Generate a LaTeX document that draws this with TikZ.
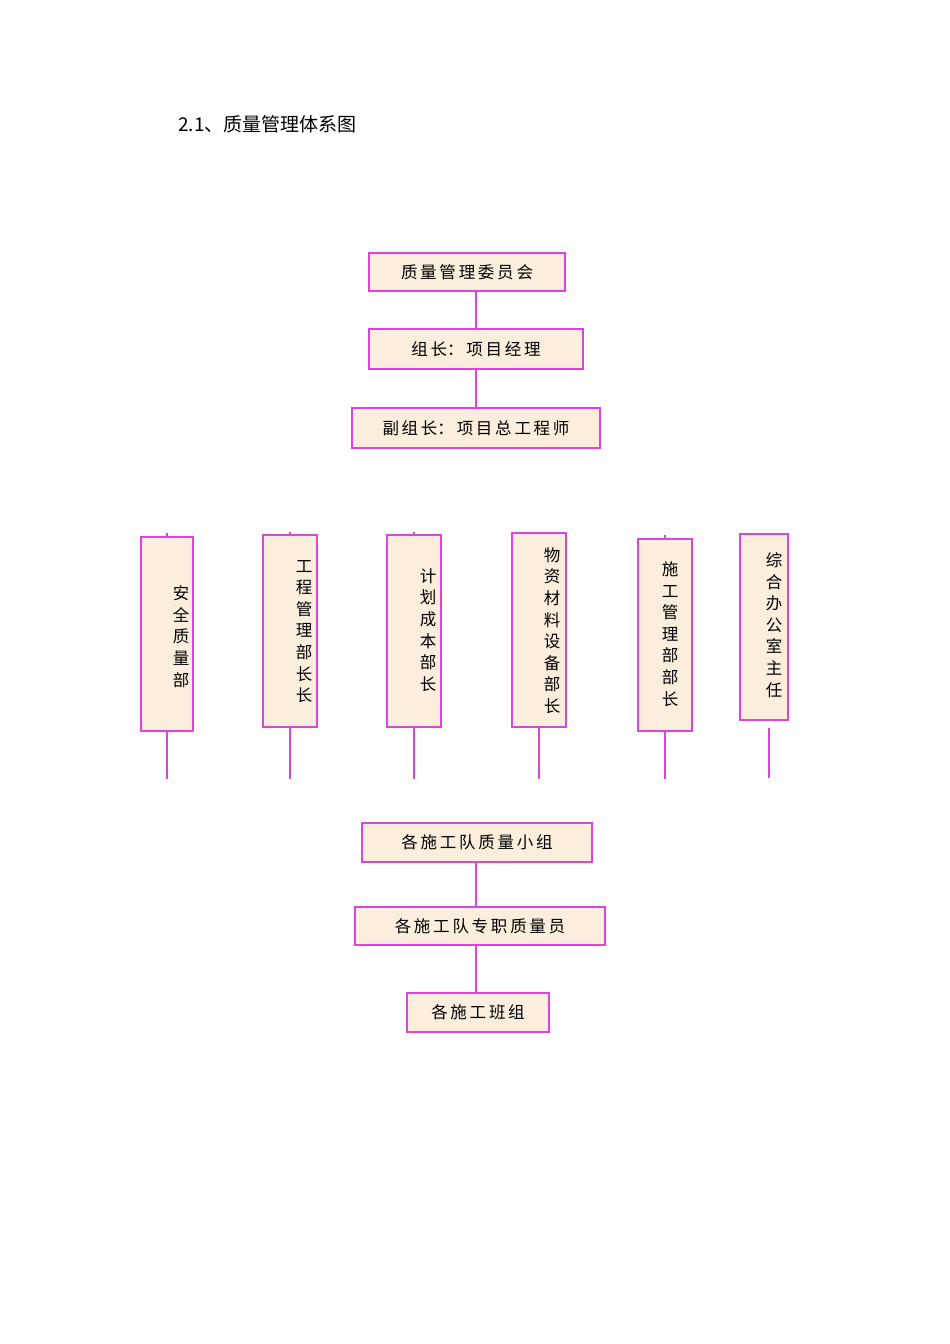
\documentclass[tikz,border=0pt]{standalone}
\usepackage{fontspec}
\setmainfont{Liberation Sans}
\newfontfamily\cjk{Noto Sans CJK SC}
\definecolor{boxfill}{HTML}{FBEEDC}
\definecolor{boxline}{HTML}{DD44DD}
\begin{document}
\begin{tikzpicture}[x=1pt,y=-1pt,
  hbox/.style={draw=boxline,fill=boxfill,line width=1.8pt,inner sep=0pt,font=\cjk\fontsize{16.5}{18}\selectfont},
  vbox/.style={draw=boxline,fill=boxfill,line width=1.8pt,inner sep=0pt},
  vtext/.style={font=\cjk\fontsize{16.5}{21.6}\selectfont,align=center,inner sep=0pt},
  conn/.style={draw=boxline,line width=1.5pt}]
\useasboundingbox (0,0) rectangle (950,1344);
\node[anchor=west,inner sep=0pt,font=\cjk\fontsize{19}{22}\selectfont] (title) at (178,124) {2.1、质量管理体系图};
% top chain
\node[hbox,minimum width=196pt,minimum height=38pt] (b1) at (467,272) {质\,量\,管\,理\,委\,员\,会};
\node[hbox,minimum width=214pt,minimum height=40pt] (b2) at (476,349) {组\,长：\,项\,目\,经\,理};
\node[hbox,minimum width=248pt,minimum height=40pt] (b3) at (476,428) {副\,组\,长：\,项\,目\,总\,工\,程\,师};
\draw[conn] (476,291) coordinate (c1a) -- (476,329) coordinate (c1b);
\draw[conn] (476,369) coordinate (c2a) -- (476,408) coordinate (c2b);
% vertical boxes
\node[vbox,minimum width=52pt,minimum height=194pt] (v1) at (167,634) {};
\node[vbox,minimum width=54pt,minimum height=192pt] (v2) at (290,631) {};
\node[vbox,minimum width=54pt,minimum height=192pt] (v3) at (414,631) {};
\node[vbox,minimum width=54pt,minimum height=194pt] (v4) at (539,630) {};
\node[vbox,minimum width=54pt,minimum height=192pt] (v5) at (665,635) {};
\node[vbox,minimum width=48pt,minimum height=186pt] (v6) at (764,627) {};
\node[vtext] (t1) at (181,636.5) {安\\全\\质\\量\\部};
\node[vtext] (t2) at (304,631.5) {工\\程\\管\\理\\部\\长\\长};
\node[vtext] (t3) at (428,630) {计\\划\\成\\本\\部\\长};
\node[vtext] (t4) at (552,630.5) {物\\资\\材\\料\\设\\备\\部\\长};
\node[vtext] (t5) at (670,634) {施\\工\\管\\理\\部\\部\\长};
\node[vtext] (t6) at (774,625) {综\\合\\办\\公\\室\\主\\任};
% stubs and legs
\draw[conn] (v1.south) -- ++(0,47) coordinate (e1);
\draw[conn] (v2.south) -- ++(0,51) coordinate (e2);
\draw[conn] (v3.south) -- ++(0,51) coordinate (e3);
\draw[conn] (v4.south) -- ++(0,51) coordinate (e4);
\draw[conn] (v5.south) -- ++(0,47) coordinate (e5);
\draw[conn] (769,728) coordinate (s6) -- (769,778) coordinate (e6);
\draw[conn] (v1.north) -- ++(0,-3) coordinate (n1);
\draw[conn] (v2.north) -- ++(0,-2) coordinate (n2);
\draw[conn] (v3.north) -- ++(0,-2) coordinate (n3);
\draw[conn] (v5.north) -- ++(0,-3) coordinate (n5);
% bottom chain
\node[hbox,minimum width=230pt,minimum height=39pt] (b7) at (477,842.5) {各\,施\,工\,队\,质\,量\,小\,组};
\node[hbox,minimum width=250pt,minimum height=38pt] (b8) at (480,926) {各\,施\,工\,队\,专\,职\,质\,量\,员};
\node[hbox,minimum width=142pt,minimum height=39pt] (b9) at (478,1012.5) {各\,施\,工\,班\,组};
\draw[conn] (476,862) coordinate (c7a) -- (476,907) coordinate (c7b);
\draw[conn] (476,945) coordinate (c8a) -- (476,993) coordinate (c8b);
\end{tikzpicture}
\end{document}
